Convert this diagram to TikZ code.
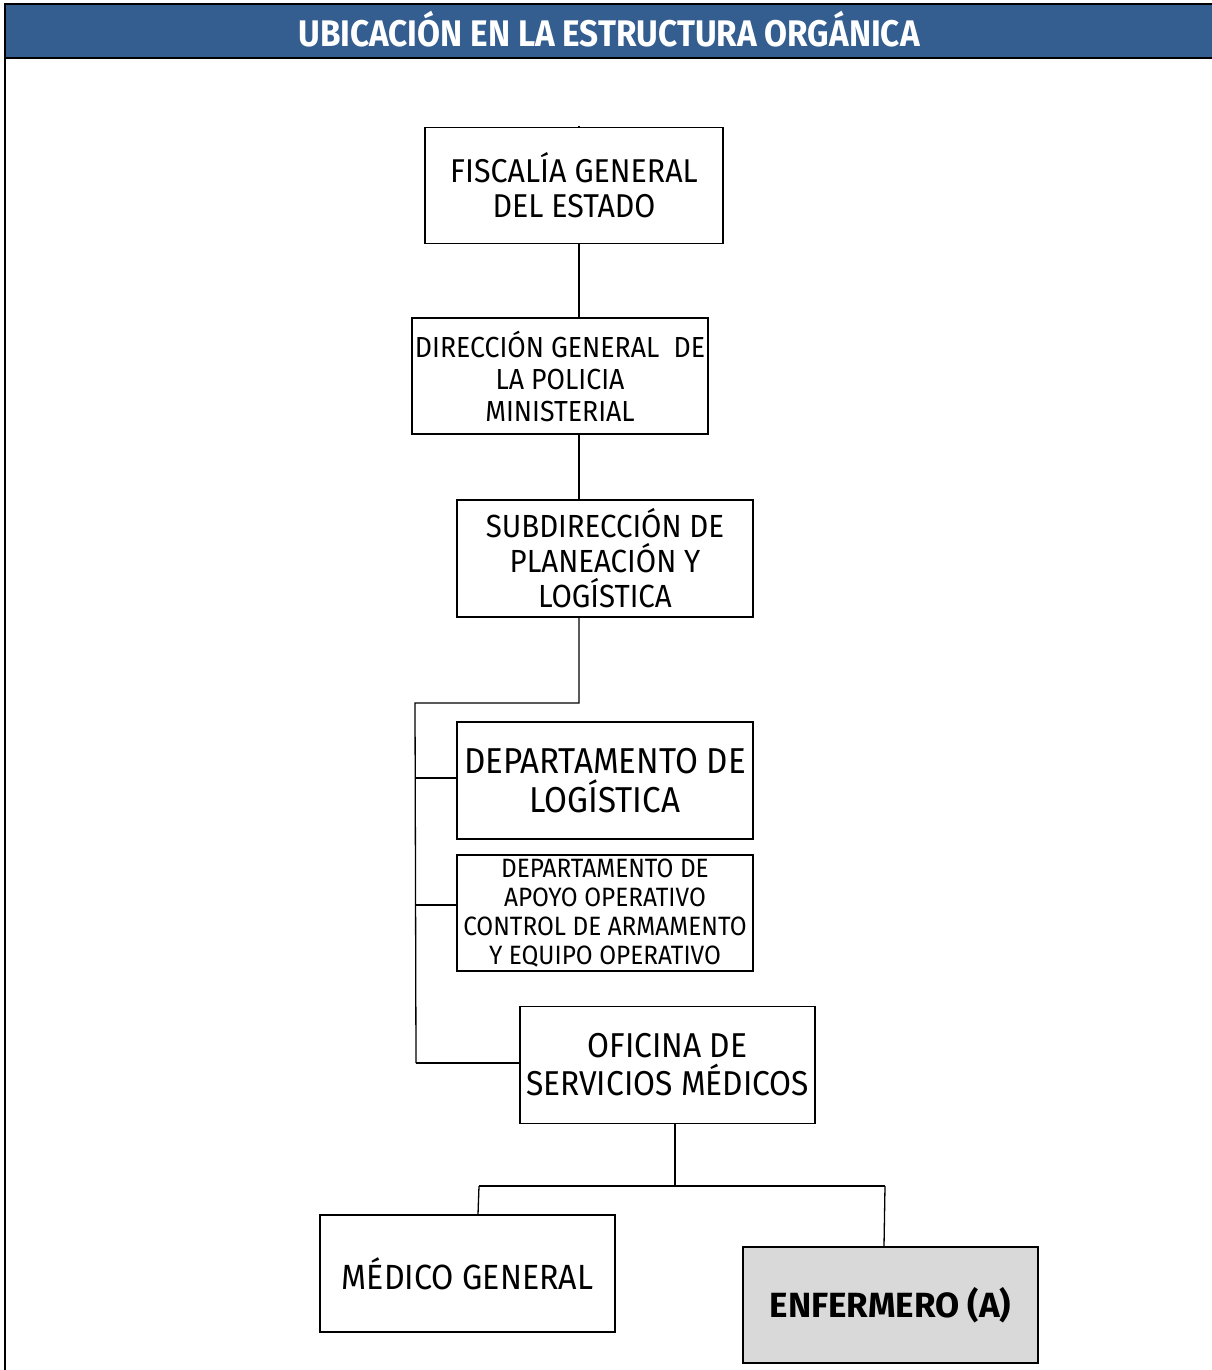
\documentclass[tikz,border=0pt]{standalone}
\usepackage{fontspec}
\setmainfont[FakeStretch=0.92]{Fira Sans}
\newfontfamily\titlefont[FakeStretch=0.9]{Fira Sans Bold}
\newfontfamily\boldfont{Fira Sans Bold}
\definecolor{bandblue}{RGB}{52,94,144}
\definecolor{boxgrey}{RGB}{217,217,217}
\begin{document}
\begin{tikzpicture}[x=1pt,y=-1pt,
  orgbox/.style={draw=black,line width=1.2pt,fill=white,minimum width=298pt,minimum height=116pt,
    align=center,inner sep=0pt,text=black},
  link/.style={draw=black,line width=1.3pt}]
\useasboundingbox (0,0) rectangle (1212,1370);
% frame and title band
\fill[bandblue] (5,4) rectangle (1212,58);
\draw[line width=1.6pt] (1212,4) -- (5,4) -- (5,1370);
\draw[line width=1.6pt] (5,58) -- (1212,58);
\node[text=white,font=\titlefont\fontsize{37}{40}\selectfont] (title) at (609,29) {UBICACIÓN EN LA ESTRUCTURA ORGÁNICA};

% boxes
\node[orgbox,font=\fontsize{33}{35}\selectfont] (fge) at (574,185.5) {FISCALÍA GENERAL\\DEL ESTADO};
\node[orgbox,minimum width=296pt,font=\fontsize{29}{32}\selectfont] (dgpm) at (560,376) {DIRECCIÓN GENERAL~~DE\\LA POLICIA\\MINISTERIAL};
\node[orgbox,minimum width=296pt,minimum height=117pt,font=\fontsize{32}{35}\selectfont] (spl) at (605,558.5) {SUBDIRECCIÓN DE\\PLANEACIÓN Y\\LOGÍSTICA};
\node[orgbox,minimum width=296pt,minimum height=117pt,font=\fontsize{36}{39}\selectfont] (dl) at (605,780.5) {DEPARTAMENTO DE\\LOGÍSTICA};
\node[orgbox,minimum width=296pt,font=\fontsize{26.5}{29}\selectfont] (dao) at (605,913) {DEPARTAMENTO DE\\APOYO OPERATIVO\\CONTROL DE ARMAMENTO\\Y EQUIPO OPERATIVO};
\node[orgbox,minimum width=295pt,minimum height=117pt,font=\fontsize{34.5}{38}\selectfont] (osm) at (667.5,1065) {OFICINA DE\\SERVICIOS MÉDICOS};
\node[orgbox,minimum width=295pt,minimum height=117pt,font=\fontsize{35}{38}\selectfont] (mg) at (467.5,1273.5) {MÉDICO GENERAL};
\node[orgbox,minimum width=295pt,minimum height=116pt,fill=boxgrey,font=\boldfont\fontsize{35}{38}\selectfont] (enf) at (890.5,1305) {ENFERMERO (A)};

% connectors
\coordinate (stub) at (579,126);
\coordinate (bend) at (579,703);
\coordinate (railtop) at (415,703);
\coordinate (railbot) at (416,1063);
\coordinate (split) at (675,1186);
\draw[link] (stub) -- (stub |- fge.north);
\draw[link] (fge.south -| 579,0) -- (dgpm.north -| 579,0);
\draw[link] (dgpm.south -| 579,0) -- (spl.north -| 579,0);
\draw[link] (spl.south -| 579,0) -- (bend) -- (railtop) -- (railbot);
\draw[link] (415,778) -- (dl.west |- 0,778);
\draw[link] (415,905) -- (dao.west |- 0,905);
\draw[link] (railbot) -- (osm.west |- railbot);
\draw[link] (osm.south -| split) -- (split);
\draw[link] (479,1186) -- (885,1186);
\draw[link] (479,1186) -- (mg.north -| 478,0);
\draw[link] (885,1186) -- (enf.north -| 884,0);
\end{tikzpicture}
\end{document}
